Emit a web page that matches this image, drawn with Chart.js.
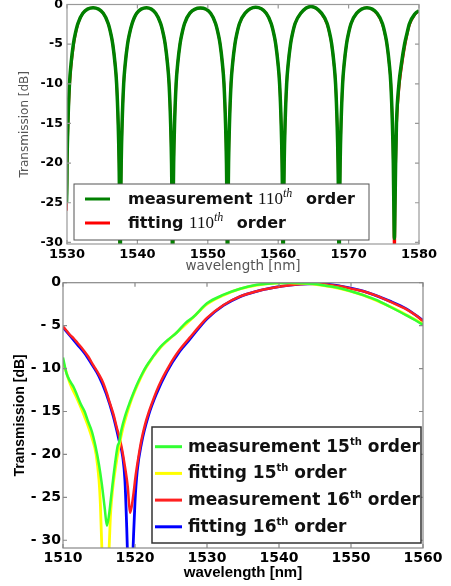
<!DOCTYPE html>
<html>
<head>
<meta charset="utf-8">
<script src="https://cdn.jsdelivr.net/npm/chart.js@4.4.0/dist/chart.umd.min.js"></script>
<style>
  body { margin: 0; background: #fff; }
  #top { position: absolute; left: 0; top: 0; width: 451px; height: 276px; }
  #bottom { position: absolute; left: 0; top: 276px; width: 451px; height: 310px; }
</style>
</head>
<body>
<div id="top"><canvas id="topChart" width="451" height="276"></canvas></div>
<div id="bottom"><canvas id="bottomChart" width="451" height="310"></canvas></div>
<script>
// ---- top panel: 110th order, 1530-1580 nm ----
const topXTicks = [1530, 1540, 1550, 1560, 1570, 1580];
const topYTicks = [0, -5, -10, -15, -20, -25, -30];
const topLabels = ['measurement 110^th order', 'fitting 110^th order'];

const topWavelength = [
  1529.85, 1529.93, 1530.0, 1530.13, 1530.35, 1530.57, 1530.9, 1531.15, 1531.55, 1532.25,
  1533.7, 1535.15, 1535.85, 1536.25, 1536.5, 1536.83, 1537.05, 1537.27, 1537.4, 1537.47,
  1537.55, 1537.63, 1537.7, 1537.83, 1538.05, 1538.27, 1538.6, 1538.85, 1539.25, 1539.9,
  1541.3, 1542.6, 1543.3, 1543.7, 1543.95, 1544.28, 1544.5, 1544.72, 1544.85, 1544.92,
  1545.0, 1545.08, 1545.15, 1545.28, 1545.5, 1545.72, 1546.05, 1546.3, 1546.7, 1547.45,
  1548.95, 1550.4, 1551.1, 1551.5, 1551.75, 1552.08, 1552.3, 1552.52, 1552.65, 1552.72,
  1552.8, 1552.88, 1552.95, 1553.08, 1553.3, 1553.52, 1553.85, 1554.1, 1554.5, 1555.3,
  1556.8, 1558.3, 1559.0, 1559.4, 1559.65, 1559.98, 1560.2, 1560.42, 1560.55, 1560.62,
  1560.7, 1560.78, 1560.85, 1560.98, 1561.2, 1561.42, 1561.75, 1562.0, 1562.4, 1563.2,
  1564.65, 1566.15, 1566.95, 1567.35, 1567.6, 1567.93, 1568.15, 1568.37, 1568.5, 1568.57,
  1568.65, 1568.73, 1568.8, 1568.93, 1569.15, 1569.37, 1569.7, 1569.95, 1570.35, 1571.15,
  1572.6, 1574.05, 1574.8, 1575.2, 1575.45, 1575.78, 1576.0, 1576.22, 1576.35, 1576.42,
  1576.5, 1576.6, 1576.68, 1576.8, 1577.15, 1577.5, 1577.95, 1578.25, 1578.65, 1579.4,
  1580.0, 1580.8
];
const topMeasured = [
  -34, -25, -20, -15, -10, -7.5, -5, -3.8, -2.4, -1.1,
  -0.4, -1.1, -2.4, -3.8, -5, -7.5, -10, -15, -20, -25,
  -34, -25, -20, -15, -10, -7.5, -5, -3.8, -2.4, -1.1,
  -0.4, -1.1, -2.4, -3.8, -5, -7.5, -10, -15, -20, -25,
  -34, -25, -20, -15, -10, -7.5, -5, -3.8, -2.4, -1.1,
  -0.45, -1.1, -2.4, -3.8, -5, -7.5, -10, -15, -20, -25,
  -34, -25, -20, -15, -10, -7.5, -5, -3.8, -2.4, -1.1,
  -0.35, -1.1, -2.4, -3.8, -5, -7.5, -10, -15, -20, -25,
  -34, -25, -20, -15, -10, -7.5, -5, -3.8, -2.4, -1.1,
  -0.25, -1.1, -2.4, -3.8, -5, -7.5, -10, -15, -20, -25,
  -34, -25, -20, -15, -10, -7.5, -5, -3.8, -2.4, -1.1,
  -0.4, -1.1, -2.4, -3.8, -5, -7.5, -10, -15, -20, -25,
  -29.5, -25, -20, -15, -10, -7.5, -5, -3.8, -2.4, -1.2,
  -0.8, -0.5
];
const topFitted = [
  -40, -26, -21, -16, -10.8, -8, -5.4, -4.0, -2.5, -1.1,
  -0.4, -1.1, -2.4, -3.8, -5, -7.5, -10, -15, -20, -25,
  -40, -25, -20, -15, -10, -7.5, -5, -3.8, -2.4, -1.1,
  -0.4, -1.1, -2.4, -3.8, -5, -7.5, -10, -15, -20, -25,
  -40, -25, -20, -15, -10, -7.5, -5, -3.8, -2.4, -1.1,
  -0.45, -1.1, -2.4, -3.8, -5, -7.5, -10, -15, -20, -25,
  -40, -25, -20, -15, -10, -7.5, -5, -3.8, -2.4, -1.1,
  -0.35, -1.1, -2.4, -3.8, -5, -7.5, -10, -15, -20, -25,
  -40, -25, -20, -15, -10, -7.5, -5, -3.8, -2.4, -1.1,
  -0.25, -1.15, -2.5, -3.9, -5.1, -7.6, -10, -15, -20, -25,
  -40, -25, -20, -15, -10, -7.5, -5, -3.8, -2.4, -1.1,
  -0.4, -1.2, -2.5, -3.9, -5.1, -7.6, -10, -15, -20, -25,
  -40, -26, -21, -16, -10.8, -8.1, -5.5, -4.1, -2.6, -1.3,
  -0.8, -0.5
];

// ---- bottom panel: 15th / 16th order, 1510-1560 nm ----
const bottomXTicks = [1510, 1520, 1530, 1540, 1550, 1560];
const bottomYTicks = [0, -5, -10, -15, -20, -25, -30];
const bottomLabels = ['measurement 15^th order', 'fitting 15^th order', 'measurement 16^th order', 'fitting 16^th order'];

const meas15Wavelength = [
  1510, 1510.5, 1511, 1511.5, 1512, 1512.5, 1513, 1513.5, 1514, 1514.5,
  1515, 1515.4, 1515.8, 1516.1, 1516.4, 1516.7, 1517.0, 1517.3, 1517.6, 1517.8,
  1518.1, 1518.6, 1519.3, 1520.2, 1521.0, 1521.6, 1522.5, 1523.5, 1524.5, 1525.8,
  1527, 1528.1, 1530, 1532.3, 1534.6, 1536.9, 1539.2, 1541.5, 1543, 1545,
  1546.5, 1548.5, 1550, 1551.7, 1553.5, 1555.4, 1557.7, 1559, 1560
];
const meas15Transmission = [
  -8.7, -10.6, -11.5, -12.2, -13.2, -14.2, -15.0, -16.2, -17.3, -19.0,
  -21.2, -23.5, -26.3, -28.3, -27.0, -24.8, -22.6, -20.6, -19.0, -18.6,
  -17.2, -15.6, -13.9, -12.0, -10.6, -9.7, -8.6, -7.5, -6.7, -5.8,
  -4.7, -4.0, -2.4, -1.4, -0.7, -0.25, -0.05, -0.02, -0.05, -0.15,
  -0.35, -0.65, -1.0, -1.45, -2.0, -2.8, -3.8, -4.4, -4.9
];
const fit15Wavelength = [
  1510, 1511, 1512, 1513, 1514, 1514.6, 1515.0, 1515.2, 1515.4, 1515.9,
  1516.4, 1516.6, 1516.9, 1517.3, 1517.8, 1518.3, 1518.9, 1519.6, 1520.5, 1521.6,
  1523.5, 1525.8, 1528, 1530, 1532.3, 1534.6, 1537, 1539.5, 1541.5, 1543.5,
  1546, 1548.5, 1551.7, 1555.4, 1557.7, 1560
];
const fit15Transmission = [
  -9.2, -11.8, -13.6, -15.6, -18.0, -20.0, -23.0, -26.0, -31.0, -38.0,
  -31.0, -27.0, -24.0, -21.5, -19.0, -17.0, -15.2, -13.4, -11.6, -9.8,
  -7.6, -5.8, -4.1, -2.5, -1.45, -0.72, -0.28, -0.06, -0.02, -0.08,
  -0.3, -0.68, -1.45, -2.78, -3.75, -4.8
];
const meas16Wavelength = [
  1510, 1510.5, 1511, 1511.5, 1512, 1512.8, 1513.5, 1514.2, 1515, 1515.6,
  1516.1, 1516.5, 1517, 1517.45, 1517.8, 1518.15, 1518.6, 1519.0, 1519.3, 1519.55,
  1519.8, 1520.1, 1520.5, 1520.9, 1521.4, 1521.9, 1522.5, 1523.0, 1523.7, 1524.4,
  1525.3, 1526.2, 1527.6, 1528.8, 1530, 1532.3, 1534.6, 1536.9, 1539.2, 1541.5,
  1543.5, 1545, 1546.5, 1548.5, 1550, 1551.7, 1553.5, 1555.4, 1557.7, 1559,
  1560
];
const meas16Transmission = [
  -5.1, -5.6, -6.1, -6.5, -7.0, -7.8, -8.6, -9.6, -10.7, -11.7,
  -12.9, -14.0, -15.3, -16.8, -17.9, -19.2, -21.4, -23.8, -26.8, -26.0,
  -24.5, -22.4, -20.2, -18.3, -16.5, -15.1, -13.7, -12.6, -11.3, -10.2,
  -8.9, -7.8, -6.4, -5.2, -4.1, -2.6, -1.6, -1.0, -0.6, -0.3,
  -0.15, -0.1, -0.2, -0.42, -0.7, -1.0, -1.5, -2.2, -3.1, -3.8,
  -4.5
];
const fit16Wavelength = [
  1510, 1511, 1512, 1513, 1514, 1515, 1516, 1517, 1517.8, 1518.3,
  1518.6, 1518.85, 1519.05, 1519.3, 1519.55, 1519.75, 1520.0, 1520.3, 1520.9, 1521.9,
  1523, 1524.4, 1526.2, 1527.6, 1530, 1532.3, 1534.6, 1536.9, 1539.2, 1541.5,
  1544, 1545.5, 1548.5, 1551.7, 1555.4, 1557.7, 1560
];
const fit16Transmission = [
  -5.2, -6.2, -7.2, -8.2, -9.5, -10.9, -12.9, -15.6, -18.4, -20.3,
  -23.0, -28.5, -34.0, -38.0, -35.0, -30.5, -25.5, -22.0, -18.7, -15.4,
  -12.9, -10.4, -8.0, -6.6, -4.2, -2.65, -1.62, -1.0, -0.58, -0.28,
  -0.12, -0.12, -0.4, -0.98, -2.15, -3.05, -4.4
];

Chart.defaults.font.family = 'DejaVu Sans';

function points(xs, ys) {
  return xs.map((x, i) => ({ x: x, y: ys[i] }));
}

// box round the plot with small inward ticks, matplotlib style
const framePlugin = {
  id: 'frame',
  afterDatasetsDraw(chart, args, o) {
    const { ctx, chartArea: a, scales } = chart;
    ctx.save();
    ctx.strokeStyle = o.color;
    ctx.lineWidth = o.width;
    ctx.strokeRect(a.left, a.top, a.right - a.left, a.bottom - a.top);
    ctx.beginPath();
    scales.x.ticks.forEach(t => {
      const px = scales.x.getPixelForValue(t.value);
      ctx.moveTo(px, a.top); ctx.lineTo(px, a.top + o.tick);
      ctx.moveTo(px, a.bottom); ctx.lineTo(px, a.bottom - o.tick);
    });
    scales.y.ticks.forEach(t => {
      const py = scales.y.getPixelForValue(t.value);
      ctx.moveTo(a.left, py); ctx.lineTo(a.left + o.tick, py);
      ctx.moveTo(a.right, py); ctx.lineTo(a.right - o.tick, py);
    });
    ctx.stroke();
    ctx.restore();
  }
};

// label text like "fitting 15^th order" -> superscript after the number
function drawRichLabel(ctx, text, x, y, o) {
  const m = text.match(/^(.*?)(\S+)\^(\S+)(.*)$/);
  const parts = m
    ? [[m[1], o.font, 0, 0], [m[2], o.numFont, 0, 0], [m[3], o.supFont, o.supRaise, o.supGap], [m[4], o.font, 0, 0]]
    : [[text, o.font, 0, 0]];
  ctx.fillStyle = o.color;
  ctx.textAlign = 'left';
  ctx.textBaseline = 'alphabetic';
  let cx = x;
  parts.forEach(([s, f, raise, gap]) => {
    ctx.font = f;
    ctx.fillText(s, cx, y - raise);
    cx += ctx.measureText(s).width + gap;
  });
}

const insideLegendPlugin = {
  id: 'insideLegend',
  afterDraw(chart, args, o) {
    const ctx = chart.ctx;
    ctx.save();
    ctx.fillStyle = '#fff';
    ctx.fillRect(o.box.x, o.box.y, o.box.w, o.box.h);
    ctx.strokeStyle = o.borderColor;
    ctx.lineWidth = o.borderWidth;
    ctx.strokeRect(o.box.x, o.box.y, o.box.w, o.box.h);
    chart.data.datasets.forEach((ds, i) => {
      const y = o.firstRow + i * o.rowGap;
      ctx.strokeStyle = ds.borderColor;
      ctx.lineWidth = o.lineWidth;
      ctx.beginPath();
      ctx.moveTo(o.lineX0, y);
      ctx.lineTo(o.lineX1, y);
      ctx.stroke();
      drawRichLabel(ctx, ds.label, o.textX, y + o.baseline, o);
    });
    ctx.restore();
  }
};

function lineSet(label, xs, ys, color, width) {
  return {
    label: label,
    data: points(xs, ys),
    borderColor: color,
    backgroundColor: color,
    borderWidth: width,
    pointRadius: 0,
    fill: false,
    cubicInterpolationMode: 'monotone',
    clip: 0
  };
}

function axes(p) {
  return {
    x: {
      type: 'linear',
      min: p.xTicks[0],
      max: p.xTicks[p.xTicks.length - 1],
      afterBuildTicks: s => { s.ticks = p.xTicks.map(v => ({ value: v })); },
      afterFit: s => { s.height = p.xHeight; s.paddingLeft = 0; s.paddingRight = 0; },
      grid: { display: false, drawTicks: false },
      border: { display: false },
      ticks: { autoSkip: false, maxRotation: 0, color: '#000', font: p.xTickFont, padding: p.xTickPad, callback: v => String(v) },
      title: { display: true, text: 'wavelength [nm]', color: p.titleColor, font: p.xTitleFont, padding: { top: 0, bottom: p.xTitlePad } }
    },
    y: {
      type: 'linear',
      min: p.yMin,
      max: 0,
      afterBuildTicks: s => { s.ticks = p.yTicks.map(v => ({ value: v })); },
      afterFit: s => { s.width = p.yWidth; s.paddingTop = 0; s.paddingBottom = 0; },
      grid: { display: false, drawTicks: false },
      border: { display: false },
      ticks: { autoSkip: false, color: '#000', font: p.yTickFont, padding: p.yTickPad, callback: p.yFormat },
      title: { display: true, text: 'Transmission [dB]', color: p.titleColor, font: p.yTitleFont, padding: { top: p.yTitlePad, bottom: 0 } }
    }
  };
}

new Chart(document.getElementById('topChart'), {
  type: 'line',
  data: {
    datasets: [
      lineSet(topLabels[0], topWavelength, topMeasured, '#008000', 3.5),
      lineSet(topLabels[1], topWavelength, topFitted, '#ff0000', 2.5)
    ]
  },
  options: {
    responsive: false,
    animation: false,
    layout: { padding: { left: 0, top: 4.5, right: 32, bottom: 0 } },
    scales: axes({
      xTicks: topXTicks, yTicks: topYTicks, yMin: -30.2,
      xHeight: 32, yWidth: 67,
      xTickFont: { size: 13, weight: 'bold' }, xTickPad: 3,
      yTickFont: { size: 12.5, weight: 'bold' }, yTickPad: 4,
      titleColor: '#555',
      xTitleFont: { size: 13.5 }, xTitlePad: 1.2,
      yTitleFont: { size: 12 }, yTitlePad: 17.8,
      yFormat: v => String(v)
    }),
    plugins: {
      legend: { display: false },
      tooltip: { enabled: false },
      frame: { color: '#999', width: 1.2, tick: 4 },
      insideLegend: {
        box: { x: 74, y: 184, w: 295, h: 56 },
        borderColor: '#555', borderWidth: 1,
        firstRow: 199, rowGap: 24,
        lineX0: 85, lineX1: 110, lineWidth: 3,
        textX: 128, baseline: 5,
        color: '#111',
        font: 'bold 16px "DejaVu Sans"',
        numFont: '17px "Liberation Serif"',
        supFont: 'italic 12px "Liberation Serif"',
        supRaise: 7, supGap: 8
      }
    }
  },
  plugins: [framePlugin, insideLegendPlugin]
});

new Chart(document.getElementById('bottomChart'), {
  type: 'line',
  data: {
    datasets: [
      lineSet(bottomLabels[0], meas15Wavelength, meas15Transmission, '#33ff33', 2.5),
      lineSet(bottomLabels[1], fit15Wavelength, fit15Transmission, '#ffff00', 2.8),
      lineSet(bottomLabels[2], meas16Wavelength, meas16Transmission, '#ff2020', 2.5),
      lineSet(bottomLabels[3], fit16Wavelength, fit16Transmission, '#0000ff', 2.8)
    ]
  },
  options: {
    responsive: false,
    animation: false,
    layout: { padding: { left: 0, top: 6.7, right: 28, bottom: 0 } },
    scales: axes({
      xTicks: bottomXTicks, yTicks: bottomYTicks, yMin: -30.9,
      xHeight: 38, yWidth: 63,
      xTickFont: { size: 14, weight: 'bold' }, xTickPad: 2,
      yTickFont: { size: 14, weight: 'bold' }, yTickPad: 2,
      titleColor: '#000',
      xTitleFont: { family: 'Liberation Sans', size: 15, weight: 'bold' }, xTitlePad: 4.2,
      yTitleFont: { family: 'Liberation Sans', size: 14, weight: 'bold' }, yTitlePad: 11.6,
      yFormat: v => (v === 0 ? '0' : '- ' + Math.abs(v))
    }),
    plugins: {
      legend: { display: false },
      tooltip: { enabled: false },
      frame: { color: '#888', width: 1.2, tick: 4 },
      insideLegend: {
        box: { x: 152, y: 151, w: 269, h: 116 },
        borderColor: '#333', borderWidth: 1.5,
        firstRow: 170.7, rowGap: 26.7,
        lineX0: 155, lineX1: 182, lineWidth: 3,
        textX: 188, baseline: 5,
        color: '#111',
        font: 'bold 17px "DejaVu Sans"',
        numFont: 'bold 17px "DejaVu Sans"',
        supFont: 'bold 10px "DejaVu Sans"',
        supRaise: 7, supGap: 0
      }
    }
  },
  plugins: [framePlugin, insideLegendPlugin]
});
</script>
</body>
</html>
